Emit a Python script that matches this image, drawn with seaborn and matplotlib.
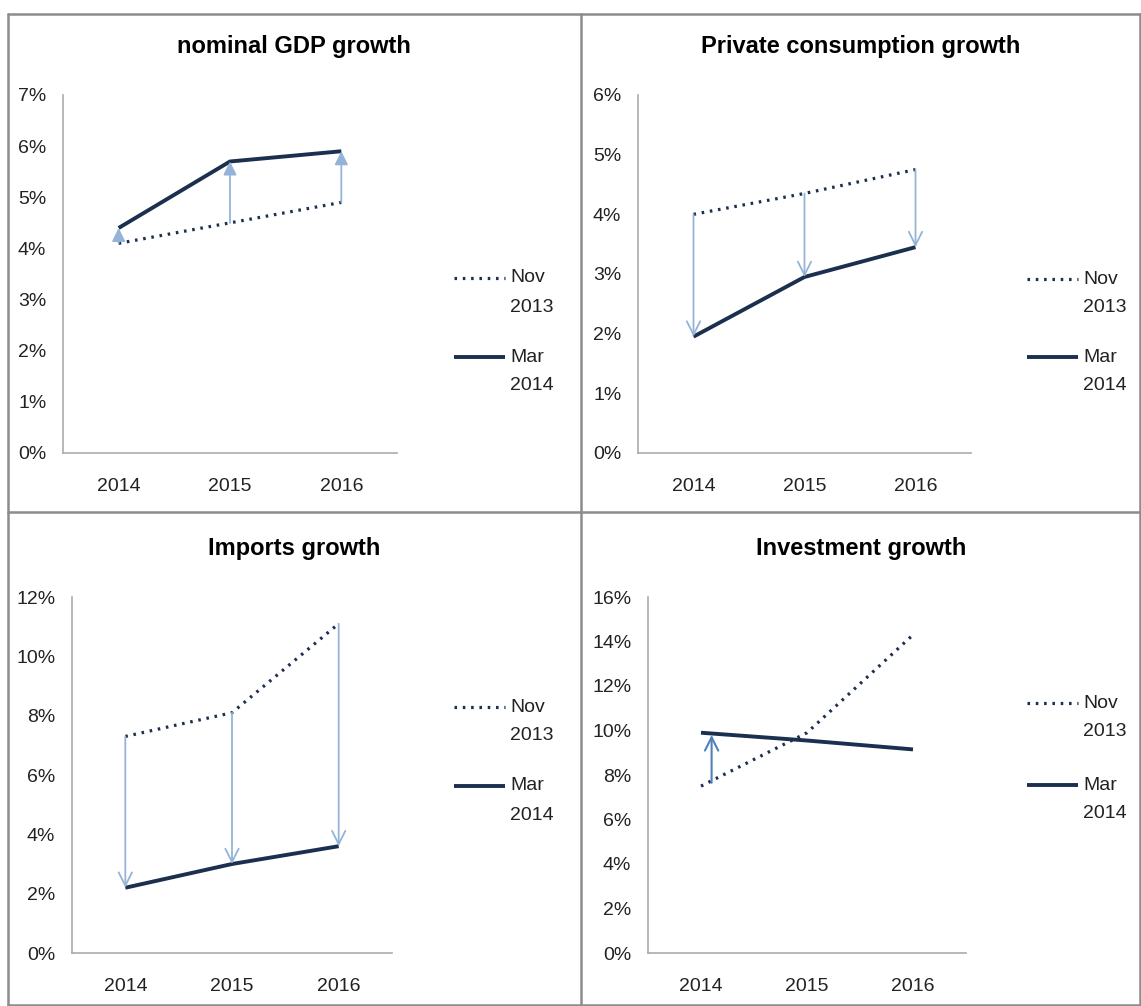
import numpy as np
import pandas as pd
import matplotlib
matplotlib.use("Agg")
import matplotlib.pyplot as plt
from matplotlib.lines import Line2D
from matplotlib.ticker import PercentFormatter
import seaborn as sns

sns.set_style("white")
plt.rcParams['font.family'] = ['Liberation Sans', 'DejaVu Sans']

# data (percent)
years = [2014, 2015, 2016]
gdp_nov = [4.1, 4.5, 4.9]
gdp_mar = [4.4, 5.7, 5.9]
cons_nov = [4.0, 4.35, 4.75]
cons_mar = [1.95, 2.95, 3.45]
imp_nov = [7.3, 8.1, 11.1]
imp_mar = [2.2, 3.0, 3.6]
inv_nov = [7.5, 9.9, 14.3]
inv_mar = [9.9, 9.55, 9.15]

titles = ["nominal GDP growth", "Private consumption growth",
          "Imports growth", "Investment growth"]
ymax = [7, 6, 12, 16]
ystep = [1, 1, 2, 2]
vintages = [("Nov", "2013"), ("Mar", "2014")]

navy = "#1b2f4f"
light = "#95b3d7"
mid = "#4f81bd"
W, H = 1141, 1006

fig = plt.figure(figsize=(W / 100, H / 100), dpi=100)


def px_rect(l, r, t, b):
    return [l / W, 1 - b / H, (r - l) / W, (b - t) / H]


rects = [px_rect(63, 397, 95, 453), px_rect(638, 971, 95, 453),
         px_rect(72, 392, 597, 953), px_rect(648, 966, 597, 953)]
title_pos = [(294, 47), (861, 47), (294, 549), (861, 549)]
# legend anchor: handle x-start, first entry y, second entry y
leg_pos = [(454, 278, 357), (1027, 279, 357), (454, 707, 786), (1027, 703, 785)]

series = [(gdp_nov, gdp_mar), (cons_nov, cons_mar),
          (imp_nov, imp_mar), (inv_nov, inv_mar)]

dot_style = (0, (0.8, 1.8))

for i, (nov, mar) in enumerate(series):
    ax = fig.add_axes(rects[i])
    sns.lineplot(x=years, y=nov, ax=ax, color=navy, linewidth=2.3,
                 linestyle=dot_style, legend=False)
    sns.lineplot(x=years, y=mar, ax=ax, color=navy, linewidth=2.8,
                 solid_capstyle="butt", legend=False)

    # revision arrows from Nov 2013 to Mar 2014 forecasts
    if i < 3:
        style = "-|>" if i == 0 else "->"
        ms = 20 if i == 0 else 24
        for x, a, b in zip(years, nov, mar):
            ax.annotate("", xy=(x, b), xytext=(x, a),
                        arrowprops=dict(arrowstyle=style, color=light, lw=1.3,
                                        mutation_scale=ms, shrinkA=0, shrinkB=0))
    else:
        ax.annotate("", xy=(years[0] + 0.1, mar[0] - 0.1), xytext=(years[0] + 0.1, nov[0] + 0.15),
                    arrowprops=dict(arrowstyle="->", color=mid, lw=1.5,
                                    mutation_scale=24, shrinkA=0, shrinkB=0))

    ax.set_xlim(2013.5, 2016.5)
    ax.set_ylim(0, ymax[i])
    ax.set_xticks(years)
    ax.set_yticks(np.arange(0, ymax[i] + 0.01, ystep[i]))
    ax.yaxis.set_major_formatter(PercentFormatter(decimals=0))
    ax.tick_params(axis="both", length=0, labelsize=14, colors="#222222")
    ax.tick_params(axis="x", pad=18)
    ax.tick_params(axis="y", pad=12)
    for s in ["top", "right"]:
        ax.spines[s].set_visible(False)
    for s in ["left", "bottom"]:
        ax.spines[s].set_color("#ababab")
        ax.spines[s].set_linewidth(1.2)

    # legend drawn by hand so the handle sits next to the first text line
    lx, y1, y2 = leg_pos[i]
    for (m, yr), ly, sty, lw in zip(vintages, (y1, y2), (dot_style, "-"), (2.3, 2.8)):
        fig.add_artist(Line2D([lx / W, (lx + 51) / W], [1 - ly / H, 1 - ly / H],
                              color=navy, linewidth=lw, linestyle=sty,
                              solid_capstyle="butt"))
        fig.text((lx + 56) / W, 1 - ly / H, m, ha="left", va="center",
                 fontsize=14, color="#222222")
        fig.text((lx + 56) / W, 1 - (ly + 29) / H, yr, ha="left", va="center",
                 fontsize=14, color="#222222")

    tx, ty = title_pos[i]
    fig.text(tx / W, 1 - ty / H, titles[i], ha="center", va="center",
             fontsize=17, fontweight="bold", color="black")

# panel borders
border = "#8c8c8c"
for xs, ys in [([8, 8], [14, 1006]), ([8, 1140], [14, 14]), ([1140, 1140], [14, 1006]),
               ([581, 581], [14, 1006]), ([8, 1140], [512, 512]), ([8, 1140], [1005, 1005])]:
    fig.add_artist(Line2D([x / W for x in xs], [1 - y / H for y in ys],
                          color=border, linewidth=1.8))

plt.savefig("out.png", dpi=100)
